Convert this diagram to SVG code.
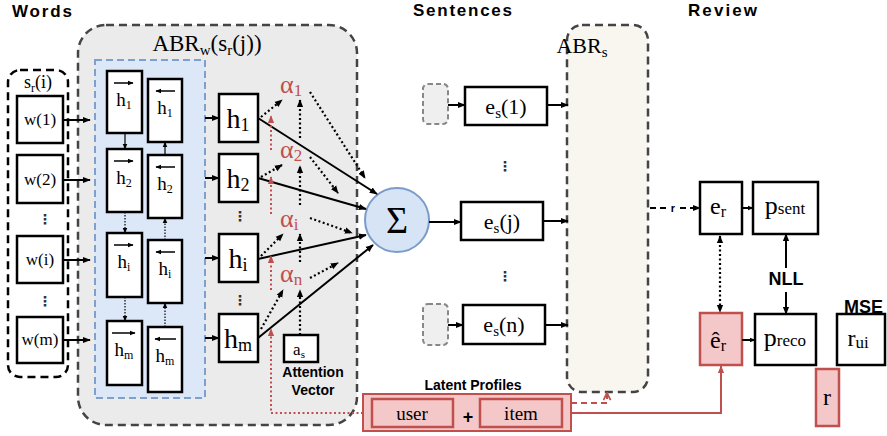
<svg xmlns="http://www.w3.org/2000/svg" width="887" height="436" viewBox="0 0 887 436">
<defs>
<marker id="ah" viewBox="0 0 10 10" refX="9" refY="5" markerWidth="8" markerHeight="8" markerUnits="userSpaceOnUse" orient="auto-start-reverse"><path d="M0,1 L10,5 L0,9 z" fill="#000"/></marker>
<marker id="ahs" viewBox="0 0 10 10" refX="9" refY="5" markerWidth="6" markerHeight="6" markerUnits="userSpaceOnUse" orient="auto-start-reverse"><path d="M0,1 L10,5 L0,9 z" fill="#000"/></marker>
<marker id="acc" viewBox="0 0 10 10" refX="9" refY="5" markerWidth="6" markerHeight="6" markerUnits="userSpaceOnUse" orient="auto"><path d="M0,1 L10,5 L0,9 z" fill="#000"/></marker>
<marker id="ahr" viewBox="0 0 10 10" refX="9" refY="5" markerWidth="8" markerHeight="8" markerUnits="userSpaceOnUse" orient="auto"><path d="M0,1 L10,5 L0,9 z" fill="#c0504d"/></marker>
<marker id="ahro" viewBox="0 0 10 10" refX="9" refY="5" markerWidth="9" markerHeight="9" markerUnits="userSpaceOnUse" orient="auto"><path d="M1,1 L9,5 L1,9" fill="none" stroke="#c0504d" stroke-width="2"/></marker>
</defs>
<style>
.title{font-family:"Liberation Sans",Arial,sans-serif;font-weight:bold;fill:#000}
.lbl{font-family:"Liberation Sans",Arial,sans-serif;font-weight:bold;fill:#000;font-size:14px;text-anchor:middle}
.m{font-family:"Liberation Serif","Times New Roman",serif;fill:#000;text-anchor:middle}
.al{font-family:"Liberation Serif","Times New Roman",serif;fill:#c0504d;font-size:26px}
.dots{font-family:"DejaVu Sans",sans-serif;fill:#333;font-size:14px;text-anchor:middle;font-weight:bold}
.box{fill:#fff;stroke:#000;stroke-width:2.5}
.rbox{fill:#f4c8c8;stroke:#c0504d;stroke-width:2.5}
.sm{fill:#efefef;stroke:#888;stroke-width:2;stroke-dasharray:5,3}
.c{fill:none;stroke:#000;stroke-width:2}
.cd{fill:none;stroke:#000;stroke-width:2.2;stroke-dasharray:2,2.5}
.ct{fill:none;stroke:#000;stroke-width:1.2}
.ctd{fill:none;stroke:#000;stroke-width:1.2;stroke-dasharray:1.5,1.5}
.acc{fill:none;stroke:#000;stroke-width:1.5}
.rd{fill:none;stroke:#c0504d;stroke-width:2;stroke-dasharray:2,2.5}
</style>

<text class="title" x="12" y="17" font-size="17" textLength="60">Words</text>
<text class="title" x="413" y="16" font-size="17" textLength="99">Sentences</text>
<text class="title" x="688" y="16" font-size="17" textLength="69">Review</text>

<g id="abrw">
<rect x="78" y="25" width="279" height="400" rx="28" fill="#ebebeb" stroke="#444" stroke-width="2.5" stroke-dasharray="8,5"/>
<text class="m" x="207" y="51" font-size="23" text-anchor="start">ABR<tspan font-size="15" dy="4">w</tspan><tspan dy="-4">(s</tspan><tspan font-size="15" dy="4">r</tspan><tspan dy="-4">(j))</tspan></text>
</g>

<g id="sentence-words">
<rect x="8" y="70" width="60" height="307" rx="12" fill="#fff" stroke="#000" stroke-width="2.5" stroke-dasharray="8,5"/>
<text class="m" x="38" y="88" font-size="18">s<tspan font-size="12" dy="4">r</tspan><tspan dy="-4">(i)</tspan></text>
</g>
<g id="w1"><rect class="box" x="17" y="96" width="46" height="47"/><text class="m" x="40" y="125" font-size="17">w(1)</text></g>
<g id="w2"><rect class="box" x="17" y="155" width="46" height="48"/><text class="m" x="40" y="185" font-size="17">w(2)</text></g>
<g id="wi"><rect class="box" x="17" y="236" width="46" height="47"/><text class="m" x="40" y="265" font-size="17">w(i)</text></g>
<g id="wm"><rect class="box" x="17" y="317" width="46" height="46"/><text class="m" x="40" y="345" font-size="17">w(m)</text></g>
<text class="dots" x="45" y="224">⋮</text>
<text class="dots" x="45" y="306">⋮</text>

<g id="birnn">
<rect x="95" y="60" width="110" height="338" fill="#dce8f8" stroke="#7f9fcc" stroke-width="2" stroke-dasharray="7,4"/>
</g>
<g id="hf1"><rect class="box" x="107" y="71" width="35" height="62"/><line class="acc" x1="114" y1="83" x2="133" y2="83" marker-end="url(#acc)"/><text class="m" x="124" y="106" font-size="19">h<tspan font-size="12" dy="3">1</tspan></text></g>
<g id="hb1"><rect class="box" x="148" y="79" width="34" height="63"/><line class="acc" x1="175" y1="91" x2="156" y2="91" marker-end="url(#acc)"/><text class="m" x="165" y="114" font-size="19">h<tspan font-size="12" dy="3">1</tspan></text></g>
<g id="hf2"><rect class="box" x="107" y="149" width="35" height="63"/><line class="acc" x1="114" y1="161" x2="133" y2="161" marker-end="url(#acc)"/><text class="m" x="124" y="184" font-size="19">h<tspan font-size="12" dy="3">2</tspan></text></g>
<g id="hb2"><rect class="box" x="148" y="155" width="34" height="63"/><line class="acc" x1="175" y1="167" x2="156" y2="167" marker-end="url(#acc)"/><text class="m" x="165" y="190" font-size="19">h<tspan font-size="12" dy="3">2</tspan></text></g>
<g id="hfi"><rect class="box" x="107" y="233" width="35" height="64"/><line class="acc" x1="114" y1="245" x2="133" y2="245" marker-end="url(#acc)"/><text class="m" x="124" y="268" font-size="19">h<tspan font-size="12" dy="3">i</tspan></text></g>
<g id="hbi"><rect class="box" x="148" y="240" width="34" height="63"/><line class="acc" x1="175" y1="252" x2="156" y2="252" marker-end="url(#acc)"/><text class="m" x="165" y="275" font-size="19">h<tspan font-size="12" dy="3">i</tspan></text></g>
<g id="hfm"><rect class="box" x="107" y="321" width="35" height="64"/><line class="acc" x1="112" y1="333" x2="135" y2="333" marker-end="url(#acc)"/><text class="m" x="124" y="356" font-size="19">h<tspan font-size="12" dy="3">m</tspan></text></g>
<g id="hbm"><rect class="box" x="148" y="327" width="34" height="65"/><line class="acc" x1="176" y1="339" x2="155" y2="339" marker-end="url(#acc)"/><text class="m" x="165" y="362" font-size="19">h<tspan font-size="12" dy="3">m</tspan></text></g>

<g id="h1"><rect class="box" x="219" y="94" width="39" height="48"/><text class="m" x="238" y="128" font-size="28">h<tspan font-size="18" dy="3">1</tspan></text></g>
<g id="h2"><rect class="box" x="219" y="154" width="39" height="48"/><text class="m" x="238" y="188" font-size="28">h<tspan font-size="18" dy="3">2</tspan></text></g>
<g id="hi"><rect class="box" x="219" y="234" width="39" height="48"/><text class="m" x="238" y="268" font-size="28">h<tspan font-size="18" dy="3">i</tspan></text></g>
<g id="hm"><rect class="box" x="219" y="314" width="39" height="48"/><text class="m" x="238" y="348" font-size="28">h<tspan font-size="18" dy="3">m</tspan></text></g>
<text class="dots" x="240" y="221">⋮</text>
<text class="dots" x="240" y="305">⋮</text>

<g id="alpha1"><text class="al" x="280" y="93">α<tspan font-size="17" dy="3">1</tspan></text></g>
<g id="alpha2"><text class="al" x="280" y="158">α<tspan font-size="17" dy="3">2</tspan></text></g>
<g id="alphai"><text class="al" x="280" y="227">α<tspan font-size="17" dy="3">i</tspan></text></g>
<g id="alphan"><text class="al" x="280" y="282">α<tspan font-size="17" dy="3">n</tspan></text></g>

<g id="as"><rect class="box" x="284" y="335" width="34" height="27"/><text class="m" x="299" y="355" font-size="17">a<tspan font-size="11" dy="3">s</tspan></text>
<text class="lbl" x="313" y="377">Attention</text><text class="lbl" x="313" y="395">Vector</text></g>

<g id="sigma"><circle cx="397" cy="220" r="32" fill="#d6e4f5" stroke="#7a9cc8" stroke-width="2"/><text class="m" x="397" y="233" font-size="38">Σ</text></g>

<g id="es1-pre"><rect class="sm" x="423" y="84" width="25" height="40" rx="5"/></g>
<g id="es1"><rect class="box" x="465" y="87" width="82" height="38"/><text class="m" x="506" y="114" font-size="22">e<tspan font-size="15" dy="4">s</tspan><tspan dy="-4">(1)</tspan></text></g>
<g id="esj"><rect class="box" x="461" y="202" width="82" height="38"/><text class="m" x="502" y="229" font-size="22">e<tspan font-size="15" dy="4">s</tspan><tspan dy="-4">(j)</tspan></text></g>
<g id="esn-pre"><rect class="sm" x="423" y="304" width="25" height="41" rx="5"/></g>
<g id="esn"><rect class="box" x="463" y="305" width="82" height="39"/><text class="m" x="504" y="332" font-size="22">e<tspan font-size="15" dy="4">s</tspan><tspan dy="-4">(n)</tspan></text></g>
<text class="dots" x="505" y="171">⋮</text>
<text class="dots" x="505" y="281">⋮</text>

<g id="abrs"><rect x="567" y="25" width="81" height="367" rx="15" fill="#f8f6ef" stroke="#444" stroke-width="2.5" stroke-dasharray="8,5"/>
<text class="m" x="582" y="53" font-size="22" text-anchor="start">ABR<tspan font-size="15" dy="4">s</tspan></text></g>

<g id="er"><rect class="box" x="700" y="182" width="42" height="52"/><text class="m" x="718" y="214" font-size="24">e<tspan font-size="16" dy="3">r</tspan></text></g>
<g id="psent"><rect class="box" x="753" y="182" width="65" height="52"/><text class="m" x="785" y="214" font-size="26">p<tspan font-size="17" dy="0">sent</tspan></text></g>
<g id="erhat"><rect class="rbox" x="700" y="313" width="42" height="52"/><text class="m" x="718" y="348" font-size="24">ê<tspan font-size="16" dy="3">r</tspan></text></g>
<g id="preco"><rect class="box" x="755" y="314" width="61" height="51"/><text class="m" x="785" y="346" font-size="26">p<tspan font-size="17" dy="0">reco</tspan></text></g>
<text class="title" x="786" y="285" font-size="18" text-anchor="middle">NLL</text>
<g id="rui"><text class="title" x="844" y="313" font-size="18">MSE</text><rect class="box" x="837" y="314" width="48" height="51"/><text class="m" x="858" y="346" font-size="24">r<tspan font-size="17" dy="2">ui</tspan></text></g>
<g id="r"><rect class="rbox" x="816" y="369" width="23" height="57"/><text class="m" x="827" y="405" font-size="24">r</text></g>

<g id="latent">
<text class="lbl" x="473" y="390">Latent Profiles</text>
<rect x="363" y="394" width="208" height="37" fill="#f4c8c8" stroke="#c0504d" stroke-width="2"/>
<rect x="372" y="399" width="81" height="28" fill="#f4c8c8" stroke="#c0504d" stroke-width="2.5"/>
<text class="m" x="412" y="420" font-size="19">user</text>
<text class="title" x="468" y="423" font-size="18" text-anchor="middle">+</text>
<rect x="480" y="399" width="82" height="28" fill="#f4c8c8" stroke="#c0504d" stroke-width="2.5"/>
<text class="m" x="521" y="420" font-size="19">item</text>
</g>

<g id="connectors">
<line class="c" x1="63" y1="120" x2="90" y2="120" marker-end="url(#ah)"/>
<line class="c" x1="63" y1="180" x2="90" y2="180" marker-end="url(#ah)"/>
<line class="c" x1="63" y1="260" x2="90" y2="260" marker-end="url(#ah)"/>
<line class="c" x1="63" y1="340" x2="90" y2="340" marker-end="url(#ah)"/>

<line class="ct" x1="125" y1="133" x2="125" y2="149" marker-end="url(#ahs)"/>
<line class="ct" x1="165" y1="155" x2="165" y2="142" marker-end="url(#ahs)"/>
<line class="ctd" x1="125" y1="212" x2="125" y2="233" marker-end="url(#ahs)"/>
<line class="ctd" x1="165" y1="240" x2="165" y2="218" marker-end="url(#ahs)"/>
<line class="ctd" x1="125" y1="297" x2="125" y2="321" marker-end="url(#ahs)"/>
<line class="ctd" x1="165" y1="327" x2="165" y2="303" marker-end="url(#ahs)"/>

<line class="c" x1="205" y1="118" x2="219" y2="118" marker-end="url(#ah)"/>
<line class="c" x1="205" y1="178" x2="219" y2="178" marker-end="url(#ah)"/>
<line class="c" x1="205" y1="258" x2="219" y2="258" marker-end="url(#ah)"/>
<line class="c" x1="205" y1="338" x2="219" y2="338" marker-end="url(#ah)"/>

<line class="c" x1="258" y1="118" x2="377" y2="194" marker-end="url(#ah)"/>
<line class="c" x1="258" y1="178" x2="366" y2="209" marker-end="url(#ah)"/>
<line class="c" x1="258" y1="259" x2="366" y2="235" marker-end="url(#ah)"/>
<line class="c" x1="258" y1="338" x2="373" y2="245" marker-end="url(#ah)"/>

<line class="cd" x1="261" y1="117" x2="282" y2="100" marker-end="url(#ah)"/>
<line class="cd" x1="261" y1="177" x2="282" y2="165" marker-end="url(#ah)"/>
<line class="cd" x1="261" y1="256" x2="283" y2="234" marker-end="url(#ah)"/>
<line class="cd" x1="261" y1="329" x2="283" y2="290" marker-end="url(#ah)"/>

<line class="cd" x1="300" y1="335" x2="300" y2="290" marker-end="url(#ah)"/>
<line class="cd" x1="300" y1="262" x2="300" y2="234" marker-end="url(#ah)"/>
<line class="cd" x1="300" y1="205" x2="300" y2="166" marker-end="url(#ah)"/>
<line class="cd" x1="300" y1="138" x2="300" y2="100" marker-end="url(#ah)"/>

<line class="cd" x1="310" y1="92" x2="365" y2="178" marker-end="url(#ah)"/>
<line class="cd" x1="310" y1="157" x2="338" y2="193" marker-end="url(#ah)"/>
<line class="cd" x1="310" y1="218" x2="352" y2="233" marker-end="url(#ah)"/>
<line class="cd" x1="310" y1="278" x2="338" y2="263" marker-end="url(#ah)"/>

<line class="rd" x1="271" y1="150" x2="271" y2="116" marker-end="url(#ahr)"/>
<line class="rd" x1="271" y1="214" x2="271" y2="177" marker-end="url(#ahr)"/>
<line class="rd" x1="271" y1="290" x2="271" y2="256" marker-end="url(#ahr)"/>
<polyline class="rd" points="363,413 271,413 271,329" marker-end="url(#ahr)"/>

<line class="c" x1="429" y1="222" x2="461" y2="222" marker-end="url(#ah)"/>
<line class="c" x1="448" y1="105" x2="465" y2="105" marker-end="url(#ah)"/>
<line class="c" x1="448" y1="325" x2="463" y2="325" marker-end="url(#ah)"/>
<line class="c" x1="547" y1="105" x2="568" y2="105" marker-end="url(#ah)"/>
<line class="c" x1="543" y1="221" x2="568" y2="221" marker-end="url(#ah)"/>
<line class="c" x1="545" y1="325" x2="568" y2="325" marker-end="url(#ah)"/>

<line fill="none" stroke="#000" stroke-width="2" stroke-dasharray="6,4" x1="650" y1="208" x2="666" y2="208"/>
<text class="title" x="673" y="212" font-size="11" text-anchor="middle" font-weight="normal">r</text>
<line fill="none" stroke="#000" stroke-width="2" stroke-dasharray="6,4" x1="680" y1="208" x2="700" y2="208" marker-end="url(#ah)"/>
<line class="c" x1="742" y1="208" x2="753" y2="208" marker-end="url(#ahs)"/>
<line class="c" x1="742" y1="340" x2="755" y2="340" marker-end="url(#ahs)"/>
<line class="cd" x1="720" y1="236" x2="720" y2="312" marker-start="url(#ah)" marker-end="url(#ah)"/>
<line class="c" x1="786" y1="268" x2="786" y2="234" marker-end="url(#ah)"/>
<line class="c" x1="786" y1="292" x2="786" y2="314" marker-end="url(#ah)"/>

<polyline fill="none" stroke="#c0504d" stroke-width="2" points="571,413 721,413 721,366" marker-end="url(#ahr)"/>
<polyline fill="none" stroke="#c0504d" stroke-width="2" stroke-dasharray="6,4" points="571,403 607,403 607,393" marker-end="url(#ahro)"/>
</g>
</svg>
